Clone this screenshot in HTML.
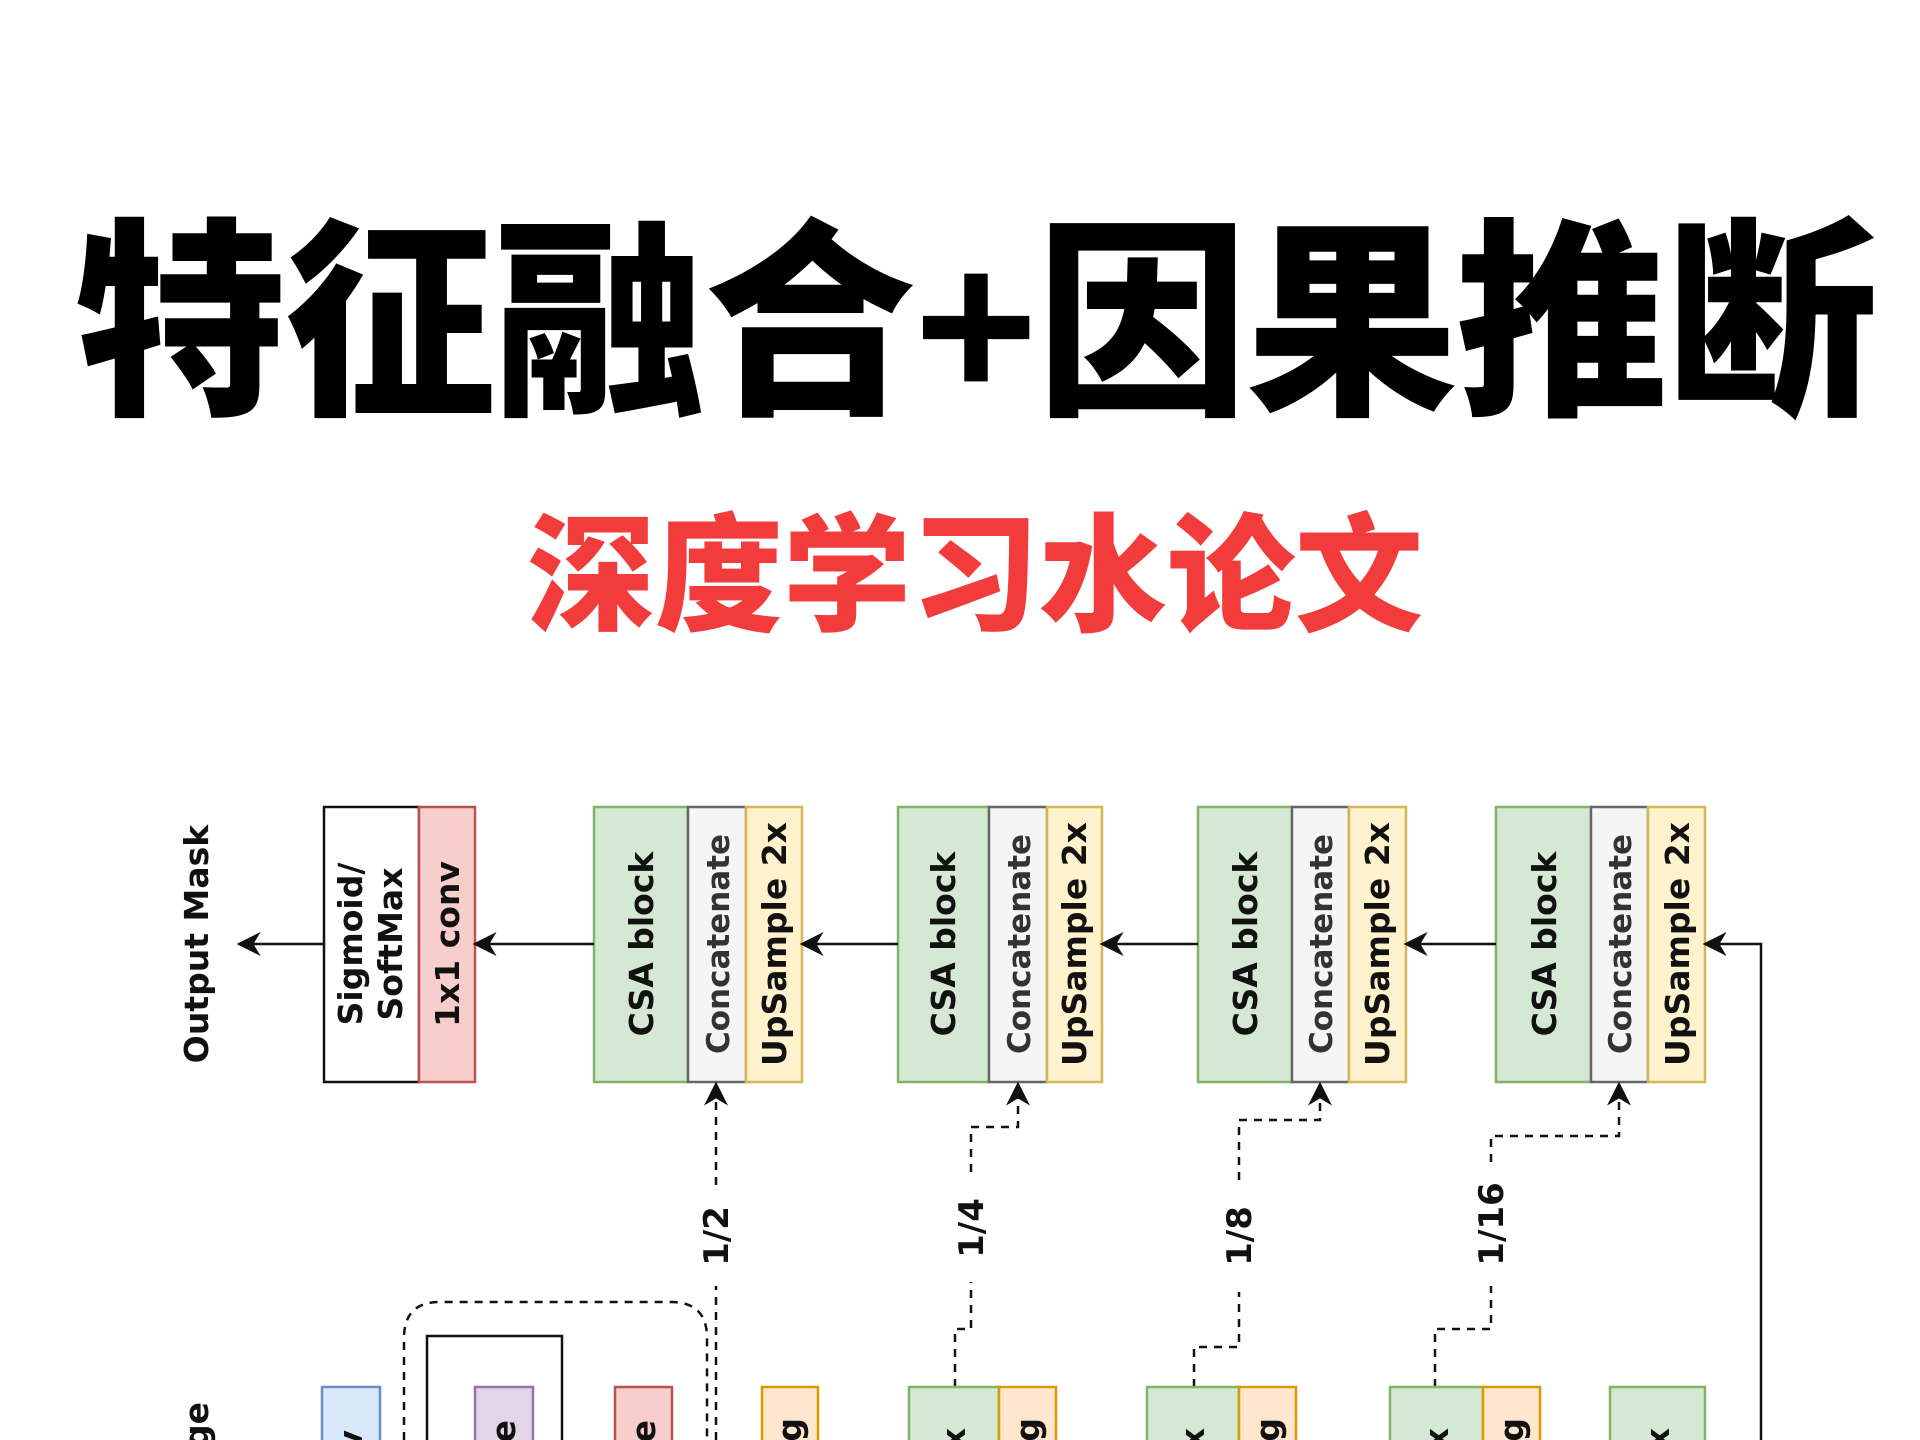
<!DOCTYPE html>
<html><head><meta charset="utf-8"><style>
html,body{margin:0;padding:0;background:#fff;overflow:hidden;}
body{width:1920px;height:1440px;position:relative;overflow:hidden;}
.t1{position:absolute;left:15px;width:1920px;top:205px;text-align:center;font-family:"Liberation Sans","Noto Sans CJK SC",sans-serif;font-weight:900;font-size:212px;line-height:240px;color:#000;letter-spacing:-2px;white-space:nowrap;}
.t2{position:absolute;left:15px;width:1920px;top:503px;text-align:center;font-family:"Liberation Sans","Noto Sans CJK SC",sans-serif;font-weight:900;font-size:128px;line-height:150px;color:#f23c3c;white-space:nowrap;}
svg{position:absolute;left:0;top:0;overflow:hidden;}
</style></head><body>
<div class="t1">特征融合+因果推断</div>
<div class="t2">深度学习水论文</div>
<svg width="1920" height="1440" viewBox="0 0 1920 1440" font-family="DejaVu Sans, sans-serif">
<defs>
<marker id="b" viewBox="0 0 10 10" refX="9" refY="5" markerWidth="24" markerHeight="24" orient="auto" markerUnits="userSpaceOnUse"><path d="M10,5 L0,0 L3,5 L0,10 Z" fill="#111"/></marker></defs>
<g font-weight="bold" font-size="33" fill="#111">
<text transform="translate(208,944) rotate(-90)" text-anchor="middle">Output Mask</text>
</g>
<g stroke-width="2.5">
<rect x="324" y="807" width="95" height="275" fill="#fff" stroke="#111"/>
<rect x="419" y="807" width="56" height="275" fill="#f8cecc" stroke="#b85450"/>
<rect x="594" y="807" width="94" height="275" fill="#d5e8d4" stroke="#82b366"/>
<rect x="688" y="807" width="58" height="275" fill="#f5f5f5" stroke="#666"/>
<rect x="746" y="807" width="56" height="275" fill="#fff2cc" stroke="#d6b656"/>
<rect x="898" y="807" width="91" height="275" fill="#d5e8d4" stroke="#82b366"/>
<rect x="989" y="807" width="58" height="275" fill="#f5f5f5" stroke="#666"/>
<rect x="1047" y="807" width="55" height="275" fill="#fff2cc" stroke="#d6b656"/>
<rect x="1198" y="807" width="94" height="275" fill="#d5e8d4" stroke="#82b366"/>
<rect x="1292" y="807" width="57" height="275" fill="#f5f5f5" stroke="#666"/>
<rect x="1349" y="807" width="57" height="275" fill="#fff2cc" stroke="#d6b656"/>
<rect x="1496" y="807" width="95" height="275" fill="#d5e8d4" stroke="#82b366"/>
<rect x="1591" y="807" width="57" height="275" fill="#f5f5f5" stroke="#666"/>
<rect x="1648" y="807" width="57" height="275" fill="#fff2cc" stroke="#d6b656"/>
</g>
<g font-weight="bold" font-size="33" fill="#111">
<text transform="translate(362,944) rotate(-90)" text-anchor="middle">Sigmoid/</text>
<text transform="translate(402,944) rotate(-90)" text-anchor="middle">SoftMax</text>
<text transform="translate(459,944) rotate(-90)" text-anchor="middle">1x1 conv</text>
<text transform="translate(653,944) rotate(-90)" text-anchor="middle">CSA block</text>
<text transform="translate(729,944) rotate(-90)" text-anchor="middle" font-size="31" fill="#333">Concatenate</text>
<text transform="translate(786,944) rotate(-90)" text-anchor="middle">UpSample 2x</text>
<text transform="translate(955,944) rotate(-90)" text-anchor="middle">CSA block</text>
<text transform="translate(1030,944) rotate(-90)" text-anchor="middle" font-size="31" fill="#333">Concatenate</text>
<text transform="translate(1086,944) rotate(-90)" text-anchor="middle">UpSample 2x</text>
<text transform="translate(1257,944) rotate(-90)" text-anchor="middle">CSA block</text>
<text transform="translate(1332,944) rotate(-90)" text-anchor="middle" font-size="31" fill="#333">Concatenate</text>
<text transform="translate(1389,944) rotate(-90)" text-anchor="middle">UpSample 2x</text>
<text transform="translate(1556,944) rotate(-90)" text-anchor="middle">CSA block</text>
<text transform="translate(1631,944) rotate(-90)" text-anchor="middle" font-size="31" fill="#333">Concatenate</text>
<text transform="translate(1689,944) rotate(-90)" text-anchor="middle">UpSample 2x</text>
</g>
<g stroke="#111" stroke-width="2.5" fill="none">
<line x1="324" y1="944" x2="239" y2="944" marker-end="url(#b)"/>
<line x1="594" y1="944" x2="475" y2="944" marker-end="url(#b)"/>
<line x1="898" y1="944" x2="802" y2="944" marker-end="url(#b)"/>
<line x1="1198" y1="944" x2="1102" y2="944" marker-end="url(#b)"/>
<line x1="1496" y1="944" x2="1406" y2="944" marker-end="url(#b)"/>
<polyline points="1761,1440 1761,944 1705,944" marker-end="url(#b)"/>
</g>
<g stroke="#111" stroke-width="2.5" fill="none" stroke-dasharray="8,7">
<line x1="716" y1="1440" x2="716" y2="1286"/>
<line x1="716" y1="1185" x2="716" y2="1084" marker-end="url(#b)"/>
<polyline points="955,1387 955,1329 971,1329 971,1282"/>
<polyline points="971,1172 971,1127 1018,1127 1018,1084" marker-end="url(#b)"/>
<polyline points="1194,1387 1194,1347 1239,1347 1239,1292"/>
<polyline points="1239,1180 1239,1120 1320,1120 1320,1084" marker-end="url(#b)"/>
<polyline points="1435,1387 1435,1329 1491,1329 1491,1286"/>
<polyline points="1491,1162 1491,1136 1619,1136 1619,1084" marker-end="url(#b)"/>
<path d="M404,1440 L404,1338 Q404,1302 440,1302 L671,1302 Q707,1302 707,1338 L707,1440"/>
</g>
<g font-weight="bold" font-size="34" fill="#111">
<text transform="translate(728,1236) rotate(-90)" text-anchor="middle">1/2</text>
<text transform="translate(983,1228) rotate(-90)" text-anchor="middle">1/4</text>
<text transform="translate(1251,1236) rotate(-90)" text-anchor="middle">1/8</text>
<text transform="translate(1503,1224) rotate(-90)" text-anchor="middle">1/16</text>
</g>
<g stroke-width="2.5">
<rect x="427" y="1336" width="135" height="120" fill="#fff" stroke="#111"/>
<rect x="322" y="1387" width="58" height="70" fill="#dae8fc" stroke="#6c8ebf"/>
<rect x="475" y="1387" width="58" height="70" fill="#e1d5e7" stroke="#9673a6"/>
<rect x="615" y="1387" width="57" height="70" fill="#f8cecc" stroke="#b85450"/>
<rect x="762" y="1387" width="56" height="70" fill="#ffe6cc" stroke="#d79b00"/>
<rect x="909" y="1387" width="90" height="70" fill="#d5e8d4" stroke="#82b366"/>
<rect x="999" y="1387" width="57" height="70" fill="#ffe6cc" stroke="#d79b00"/>
<rect x="1147" y="1387" width="92" height="70" fill="#d5e8d4" stroke="#82b366"/>
<rect x="1239" y="1387" width="57" height="70" fill="#ffe6cc" stroke="#d79b00"/>
<rect x="1390" y="1387" width="93" height="70" fill="#d5e8d4" stroke="#82b366"/>
<rect x="1483" y="1387" width="57" height="70" fill="#ffe6cc" stroke="#d79b00"/>
<rect x="1610" y="1387" width="95" height="70" fill="#d5e8d4" stroke="#82b366"/>
</g>
<g font-weight="bold" font-size="33" fill="#111" text-anchor="end">
<text transform="translate(208,1402) rotate(-90)">Input Image</text>
<text transform="translate(362,1430) rotate(-90)">Conv</text>
<text transform="translate(515,1420) rotate(-90)">Resize</text>
<text transform="translate(655,1420) rotate(-90)">Resize</text>
<text transform="translate(801,1418) rotate(-90)">Pooling</text>
<text transform="translate(965,1428) rotate(-90)">block x</text>
<text transform="translate(1039,1418) rotate(-90)">Pooling</text>
<text transform="translate(1204,1428) rotate(-90)">block x</text>
<text transform="translate(1279,1418) rotate(-90)">Pooling</text>
<text transform="translate(1448,1428) rotate(-90)">block x</text>
<text transform="translate(1523,1418) rotate(-90)">Pooling</text>
<text transform="translate(1669,1428) rotate(-90)">block x</text>
</g>
</svg>
</body></html>
